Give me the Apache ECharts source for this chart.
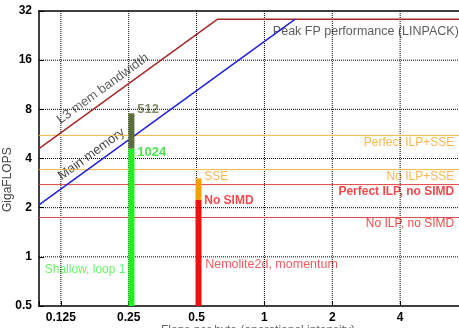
<!DOCTYPE html>
<html>
<head>
<meta charset="utf-8">
<script src="https://cdn.jsdelivr.net/npm/echarts@6/dist/echarts.min.js"></script>
<style>
  html, body { margin: 0; padding: 0; background: #fff; }
  #chart { width: 459px; height: 328px; }
</style>
</head>
<body>
<div id="chart"></div>
<script>
// axis ticks
var xTicks = [0.125, 0.25, 0.5, 1, 2, 4];
var yTicks = [1, 2, 4, 8, 16];
// roofline data (flops/byte, GFLOPS)
var l3Roof = [[0.1, 4.6], [0.62, 28.5], [8, 28.5]];
var memRoof = [[0.1, 2.08], [1.37, 28.5]];
var ceilPerfectSSE = 5.54;
var ceilNoIlpSSE = 3.42;
var ceilPerfectNoSimd = 2.77;
var ceilNoIlpNoSimd = 1.74;
// measured kernels
var shallowX = 0.257;
var shallow1024 = 4.6;
var shallow512 = 7.56;
var nemoX = 0.51;
var nemoNoSimd = 2.23;
var nemoSSE = 3.02;
var xMin = 0.1, xMax = 8, yMin = 0.5, yMax = 32;

function hline(y, color) {
  return {
    type: "line", symbol: "none", silent: true,
    lineStyle: { color: color, width: 1 },
    data: [[xMin, y], [xMax, y]],
  };
}
function vbar(x, y0, y1, color) {
  return {
    type: "line", symbol: "none", silent: true,
    lineStyle: { color: color, width: 6, cap: "butt" },
    data: [[x, y0], [x, y1]],
  };
}
function gridSeg(a, b) {
  return {
    type: "line", symbol: "none", silent: true,
    lineStyle: { color: "#000", type: [1, 1], width: 1 },
    data: [a, b],
  };
}
function note(x, y, text, color, pos, bold, rot, size) {
  return {
    value: [x, y],
    label: {
      show: true, formatter: text, color: color, position: pos, distance: 0,
      fontSize: size || 12, fontWeight: bold ? "bold" : "normal", rotate: rot || 0,
      fontFamily: "Liberation Sans, Arial, sans-serif",
    },
  };
}
function pow2Label(v) {
  var l = Math.log2(v);
  return Math.abs(l - Math.round(l)) < 1e-6 ? String(v) : "";
}

// dotted grid, one line series per tick
var gridLines = xTicks.map(function (v) { return gridSeg([v, yMin], [v, yMax]); })
  .concat(yTicks.map(function (v) { return gridSeg([xMin, v], [xMax, v]); }));

var myChart = echarts.init(document.getElementById("chart"));
myChart.setOption({
  animation: false,
  textStyle: { fontFamily: "Liberation Sans, Arial, sans-serif" },
  grid: { left: 39, right: -9, top: 11, bottom: 22, outerBoundsMode: "none" },
  xAxis: [
    {
      type: "log", logBase: 2, min: xMin, max: xMax,
      axisLine: { lineStyle: { color: "#000", width: 1.5 } },
      axisTick: { inside: true, length: 5, lineStyle: { color: "#000" } },
      axisLabel: { formatter: pow2Label, color: "#000", fontWeight: "bold", fontSize: 12, margin: 6 },
      splitLine: { show: false },
    },
    {
      type: "log", logBase: 2, min: xMin, max: xMax, position: "top",
      axisLine: { show: true, lineStyle: { color: "#000", width: 1.5 } },
      axisTick: { show: false }, axisLabel: { show: false }, splitLine: { show: false },
    },
  ],
  yAxis: {
    type: "log", logBase: 2, min: yMin, max: yMax,
    axisLine: { show: true, lineStyle: { color: "#000", width: 1.5 } },
    axisTick: { show: true, inside: true, length: 5, lineStyle: { color: "#000" } },
    axisLabel: { formatter: pow2Label, color: "#000", fontWeight: "bold", fontSize: 12, margin: 7 },
    splitLine: { show: false },
  },
  graphic: [
    {
      type: "text", x: 2, y: 212, rotation: Math.PI / 2,
      style: { text: "GigaFLOPS", fill: "#444", fontSize: 12, fontFamily: "Liberation Sans, Arial, sans-serif" },
    },
    {
      type: "text", x: 161, y: 325,
      style: { text: "Flops per byte (operational intensity)", fill: "#666", fontSize: 12, fontFamily: "Liberation Sans, Arial, sans-serif" },
    },
  ],
  series: gridLines.concat([
    hline(ceilPerfectSSE, "#f5b84a"),
    hline(ceilNoIlpSSE, "#f5b84a"),
    hline(ceilPerfectNoSimd, "#e24848"),
    hline(ceilNoIlpNoSimd, "#e24848"),
    {
      type: "line", symbol: "none", silent: true,
      lineStyle: { color: "#a52828", width: 1.5 },
      data: l3Roof,
    },
    {
      type: "line", symbol: "none", silent: true,
      lineStyle: { color: "#2020dd", width: 1.5 },
      data: memRoof,
    },
    vbar(shallowX, yMin, shallow1024, "#22ee22"),
    vbar(shallowX, shallow1024, shallow512, "#5b6e3a"),
    vbar(nemoX, yMin, nemoNoSimd, "#ee1111"),
    vbar(nemoX, nemoNoSimd, nemoSSE, "#f5a000"),
    {
      type: "scatter", symbolSize: 0, silent: true,
      data: [
        note(1.09, 24.1, "Peak FP performance (LINPACK)", "#333", "right", false, 0, 12.5),
        note(6.95, 5.03, "Perfect ILP+SSE", "#f5a623", "left", false),
        note(6.95, 3.09, "No ILP+SSE", "#f5a623", "left", false),
        note(6.95, 2.5, "Perfect ILP, no SIMD", "#ee1c1c", "left", true),
        note(6.95, 1.59, "No ILP, no SIMD", "#ee1c1c", "left", false),
        note(0.273, 8, "512", "#5b6e3a", "right", true, 0, 13),
        note(0.273, 4.35, "1024", "#22dd22", "right", true, 0, 13),
        note(0.541, 3.09, "SSE", "#f5a623", "right", false),
        note(0.541, 2.2, "No SIMD", "#ee1c1c", "right", true),
        note(0.106, 0.83, "Shallow, loop 1", "#44ee44", "right", false),
        note(0.546, 0.9, "Nemolite2d, momentum", "#ee3333", "right", false, 0, 12.5),
        note(0.192, 10.7, "L3 mem bandwidth", "#333", "inside", false, 36, 13),
        note(0.171, 4.25, "Main memory", "#111", "inside", false, 36, 13),
      ],
    },
  ]),
});
setTimeout(function () {
  window.addEventListener("resize", function () {
    myChart.resize();
  });
}, 50);
</script>
</body>
</html>
